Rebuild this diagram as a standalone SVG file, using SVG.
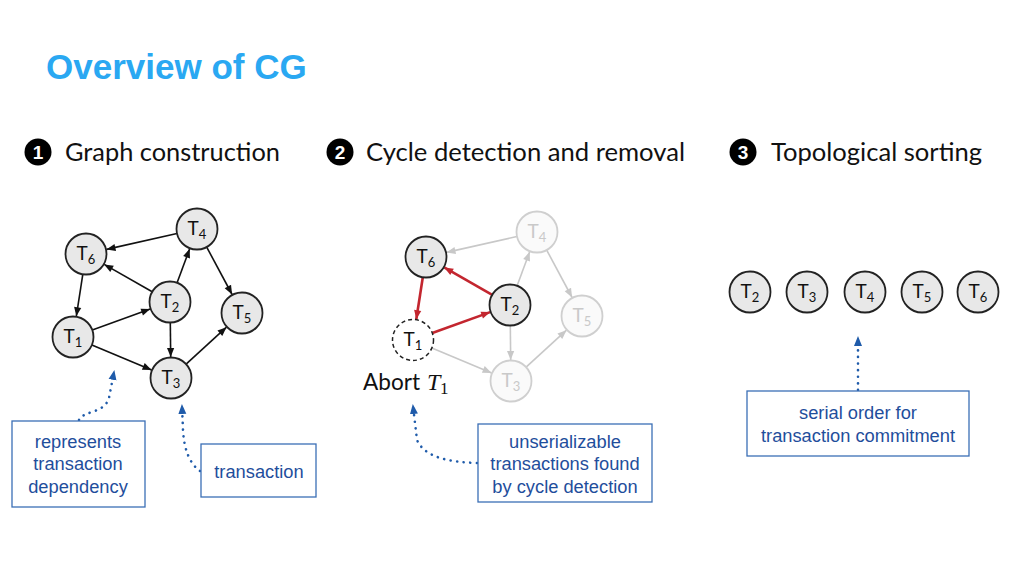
<svg xmlns="http://www.w3.org/2000/svg" width="1024" height="576" viewBox="0 0 1024 576">
<style>
.title{font-family:"Liberation Sans",Arial,sans-serif;font-weight:bold;font-size:35px;fill:#2AA8F2}
.head{font-family:Lato,"Open Sans",sans-serif;font-size:25px;fill:#111}
.num{font-family:"Liberation Sans",Arial,sans-serif;font-weight:bold;font-size:19px;fill:#fff}
.node circle{fill:#e8e8e8;stroke:#222;stroke-width:1.8}
.node text{font-family:Lato,"Open Sans",sans-serif;font-size:19px;fill:#111}
.node .sub{font-size:13px}
.faded circle{fill:#fafafa;stroke:#cfcfcf}
.faded text{fill:#c9c9c9}
.e{stroke:#111;stroke-width:1.6;fill:none;marker-end:url(#ah)}
.g{stroke:#c8c8c8;stroke-width:1.6;fill:none;marker-end:url(#ahg)}
.r{stroke:#c3262f;stroke-width:2.6;fill:none;marker-end:url(#ahr)}
.box rect{fill:#fff;stroke:#3b6fb6;stroke-width:1.3}
.box text{font-family:"Liberation Sans",Arial,sans-serif;font-size:18.3px;fill:#1F4E9C;text-anchor:middle}
.dot{stroke:#1F5BAA;stroke-width:2.6;fill:none;stroke-dasharray:0.1 6.5;stroke-linecap:round;marker-end:url(#ahb)}
</style>
<defs>
<marker id="ah" viewBox="0 0 10 10" refX="10" refY="5" markerWidth="10" markerHeight="9" markerUnits="userSpaceOnUse" orient="auto"><path d="M0,1 L10,5 L0,9 z" fill="#111"/></marker>
<marker id="ahg" viewBox="0 0 10 10" refX="10" refY="5" markerWidth="10" markerHeight="9" markerUnits="userSpaceOnUse" orient="auto"><path d="M0,1 L10,5 L0,9 z" fill="#c8c8c8"/></marker>
<marker id="ahr" viewBox="0 0 10 10" refX="10" refY="5" markerWidth="10" markerHeight="9" markerUnits="userSpaceOnUse" orient="auto"><path d="M0,1 L10,5 L0,9 z" fill="#c3262f"/></marker>
<marker id="ahb" viewBox="0 0 10 10" refX="8" refY="5" markerWidth="10" markerHeight="10" markerUnits="userSpaceOnUse" orient="auto"><path d="M0,1 L10,5 L0,9 z" fill="#1F5BAA"/></marker>
</defs>
<rect width="1024" height="576" fill="#fff"/>

<text class="title" x="46" y="79">Overview of CG</text>

<g id="heading1">
<circle cx="38" cy="152" r="13.5" fill="#000"/>
<text class="num" x="38" y="159" text-anchor="middle">1</text>
<text class="head" x="65" y="161" textLength="215" lengthAdjust="spacingAndGlyphs">Graph construction</text>
</g>
<g id="heading2">
<circle cx="340" cy="152" r="13.5" fill="#000"/>
<text class="num" x="340" y="159" text-anchor="middle">2</text>
<text class="head" x="366" y="161" textLength="319" lengthAdjust="spacingAndGlyphs">Cycle detection and removal</text>
</g>
<g id="heading3">
<circle cx="743" cy="152" r="13.5" fill="#000"/>
<text class="num" x="743" y="159" text-anchor="middle">3</text>
<text class="head" x="771" y="161" textLength="211" lengthAdjust="spacingAndGlyphs">Topological sorting</text>
</g>

<!-- Graph 1 connectors -->
<g id="connectors1">
<line class="e" x1="177" y1="233.5" x2="106.5" y2="249.4"/>
<line class="e" x1="206.7" y1="247.1" x2="232.1" y2="294.5"/>
<line class="e" x1="177.1" y1="282.8" x2="189.7" y2="248.7"/>
<line class="e" x1="152.2" y1="291.8" x2="104.2" y2="264.4"/>
<line class="e" x1="82.8" y1="274.3" x2="76.3" y2="316.3"/>
<line class="e" x1="92.3" y1="330" x2="150.2" y2="309.1"/>
<line class="e" x1="91.9" y1="344.9" x2="151.6" y2="369.9"/>
<line class="e" x1="170.3" y1="322.5" x2="170.7" y2="357"/>
<line class="e" x1="186.1" y1="364.2" x2="226.5" y2="327.2"/>
</g>

<!-- Graph 1 nodes -->
<g id="g1-T4" class="node"><circle cx="197" cy="229" r="20.5"/><text x="197" y="235" text-anchor="middle">T<tspan class="sub" dy="4">4</tspan></text></g>
<g id="g1-T6" class="node"><circle cx="86" cy="254" r="20.5"/><text x="86" y="260" text-anchor="middle">T<tspan class="sub" dy="4">6</tspan></text></g>
<g id="g1-T2" class="node"><circle cx="170" cy="302" r="20.5"/><text x="170" y="308" text-anchor="middle">T<tspan class="sub" dy="4">2</tspan></text></g>
<g id="g1-T5" class="node"><circle cx="242" cy="313" r="20.5"/><text x="242" y="319" text-anchor="middle">T<tspan class="sub" dy="4">5</tspan></text></g>
<g id="g1-T1" class="node"><circle cx="73" cy="337" r="20.5"/><text x="73" y="343" text-anchor="middle">T<tspan class="sub" dy="4">1</tspan></text></g>
<g id="g1-T3" class="node"><circle cx="171" cy="378" r="20.5"/><text x="171" y="384" text-anchor="middle">T<tspan class="sub" dy="4">3</tspan></text></g>

<!-- Graph 2 -->
<g transform="translate(340,3)">
<g id="connectors2">
<line class="g" x1="177" y1="233.5" x2="106.5" y2="249.4"/>
<line class="g" x1="206.7" y1="247.1" x2="232.1" y2="294.5"/>
<line class="g" x1="177.1" y1="282.8" x2="189.7" y2="248.7"/>
<line class="r" x1="152.2" y1="291.8" x2="104.2" y2="264.4"/>
<line class="r" x1="82.8" y1="274.3" x2="76.3" y2="316.3"/>
<line class="r" x1="92.3" y1="330" x2="150.2" y2="309.1"/>
<line class="g" x1="91.9" y1="344.9" x2="151.6" y2="369.9"/>
<line class="g" x1="170.3" y1="322.5" x2="170.7" y2="357"/>
<line class="g" x1="186.1" y1="364.2" x2="226.5" y2="327.2"/>
</g>
<g id="g2-T4" class="node faded"><circle cx="197" cy="229" r="20.5"/><text x="197" y="235" text-anchor="middle">T<tspan class="sub" dy="4">4</tspan></text></g>
<g id="g2-T6" class="node"><circle cx="86" cy="254" r="20.5"/><text x="86" y="260" text-anchor="middle">T<tspan class="sub" dy="4">6</tspan></text></g>
<g id="g2-T2" class="node"><circle cx="170" cy="302" r="20.5"/><text x="170" y="308" text-anchor="middle">T<tspan class="sub" dy="4">2</tspan></text></g>
<g id="g2-T5" class="node faded"><circle cx="242" cy="313" r="20.5"/><text x="242" y="319" text-anchor="middle">T<tspan class="sub" dy="4">5</tspan></text></g>
<g id="g2-T1" class="node"><circle cx="73" cy="337" r="20.5" style="fill:#fff;stroke-dasharray:4 3;stroke-width:1.5"/><text x="73" y="343" text-anchor="middle">T<tspan class="sub" dy="4">1</tspan></text></g>
<g id="g2-T3" class="node faded"><circle cx="171" cy="378" r="20.5"/><text x="171" y="384" text-anchor="middle">T<tspan class="sub" dy="4">3</tspan></text></g>
</g>
<g id="abort-label">
<text x="363" y="390" font-family="Lato,'Open Sans',sans-serif" font-size="23" fill="#111" textLength="57" lengthAdjust="spacingAndGlyphs">Abort</text>
<text x="427" y="390" font-family="'Liberation Serif','DejaVu Serif',serif" font-style="italic" font-size="24" fill="#111">T</text>
<text x="440" y="394" font-family="'Liberation Serif','DejaVu Serif',serif" font-size="17" fill="#111">1</text>
</g>

<!-- Graph 3 -->
<g id="g3-T2" class="node"><circle cx="750" cy="292" r="20.5"/><text x="750" y="298" text-anchor="middle">T<tspan class="sub" dy="4">2</tspan></text></g>
<g id="g3-T3" class="node"><circle cx="807" cy="292" r="20.5"/><text x="807" y="298" text-anchor="middle">T<tspan class="sub" dy="4">3</tspan></text></g>
<g id="g3-T4" class="node"><circle cx="865" cy="292" r="20.5"/><text x="865" y="298" text-anchor="middle">T<tspan class="sub" dy="4">4</tspan></text></g>
<g id="g3-T5" class="node"><circle cx="922" cy="292" r="20.5"/><text x="922" y="298" text-anchor="middle">T<tspan class="sub" dy="4">5</tspan></text></g>
<g id="g3-T6" class="node"><circle cx="978" cy="292" r="20.5"/><text x="978" y="298" text-anchor="middle">T<tspan class="sub" dy="4">6</tspan></text></g>

<!-- Callout connectors -->
<g id="callout-connectors">
<path class="dot" d="M79,420 C84,410 104,414 109,398 L114,372"/>
<path class="dot" d="M200,471 C190,464 184,450 183,430 L182,406"/>
<path class="dot" d="M477,463 C450,462 425,458 417,440 L413,406"/>
<path class="dot" d="M858,390 L858,338"/>
</g>

<!-- Callout boxes -->
<g id="box-dependency" class="box"><rect x="12" y="421" width="133" height="86"/>
<text x="78" y="448">represents</text><text x="78" y="470">transaction</text><text x="78" y="493">dependency</text></g>
<g id="box-transaction" class="box"><rect x="201" y="444" width="115" height="53"/>
<text x="259" y="478">transaction</text></g>
<g id="box-unserializable" class="box"><rect x="478" y="424" width="174" height="78"/>
<text x="565" y="448">unserializable</text><text x="565" y="470">transactions found</text><text x="565" y="493">by cycle detection</text></g>
<g id="box-serial" class="box"><rect x="747" y="391" width="222" height="65"/>
<text x="858" y="419">serial order for</text><text x="858" y="442">transaction commitment</text></g>
</svg>
